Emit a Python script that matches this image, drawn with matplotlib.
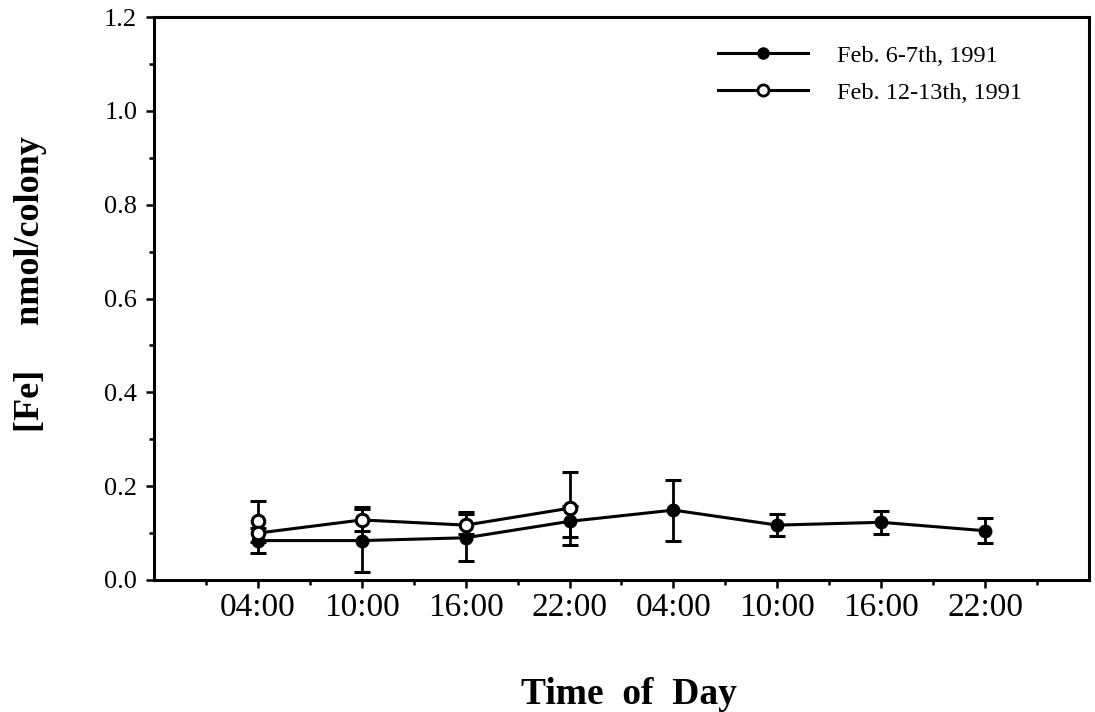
import matplotlib
matplotlib.use("Agg")
import matplotlib.pyplot as plt
from matplotlib.ticker import MultipleLocator, FixedLocator, FormatStrFormatter
from matplotlib.lines import Line2D

plt.rcParams['font.family'] = ['Liberation Serif', 'DejaVu Serif']

# ---- data ----
time_labels = ["04:00", "10:00", "16:00", "22:00", "04:00", "10:00", "16:00", "22:00"]
x_pos = [1, 2, 3, 4, 5, 6, 7, 8]

feb6_y = [0.084, 0.084, 0.090, 0.125, 0.149, 0.117, 0.123, 0.105]
feb6_err = [0.027, 0.068, 0.050, 0.033, 0.065, 0.024, 0.024, 0.027]

feb12_x = [1, 2, 3, 4]
feb12_y = [0.100, 0.128, 0.117, 0.153]
feb12_err_lo = [0.020, 0.023, 0.020, 0.078]
feb12_err_hi = [0.069, 0.028, 0.029, 0.078]
# second open marker drawn at the first time point
feb12_extra_x = [1]
feb12_extra_y = [0.125]

series_labels = ["Feb. 6-7th, 1991", "Feb. 12-13th, 1991"]

fig = plt.figure(figsize=(10.95, 7.12), dpi=100)
ax = fig.add_axes([0.1406, 0.1854, 0.8539, 0.7906])

lw = 2.2
ax.errorbar(x_pos, feb6_y, yerr=feb6_err, color='black', lw=lw,
            marker='o', ms=9, mfc='black', mec='black', capsize=6, capthick=2.2,
            elinewidth=2.0, zorder=3)
ax.errorbar(feb12_x, feb12_y, yerr=[feb12_err_lo, feb12_err_hi], color='black', lw=lw,
            marker='o', ms=9, mfc='white', mec='black', mew=2.2, capsize=6, capthick=2.2,
            elinewidth=2.0, zorder=4)
ax.plot(feb12_extra_x, feb12_extra_y, linestyle='none', marker='o', ms=9,
        mfc='white', mec='black', mew=2.2, zorder=4)

ax.set_xlim(0, 9)
ax.set_ylim(0, 1.2)
ax.xaxis.set_major_locator(FixedLocator(x_pos))
ax.set_xticklabels(time_labels)
ax.xaxis.set_minor_locator(FixedLocator([0.5 + i for i in range(9)]))
ax.yaxis.set_major_locator(MultipleLocator(0.2))
ax.yaxis.set_minor_locator(MultipleLocator(0.1))
ax.yaxis.set_major_formatter(FormatStrFormatter('%.1f'))

for s in ax.spines.values():
    s.set_linewidth(2.2)
ax.tick_params(which='major', direction='out', length=6, width=1.8)
ax.tick_params(which='minor', direction='out', length=3.5, width=1.8)
ax.tick_params(axis='x', which='major', labelsize=24, pad=3)
ax.tick_params(axis='y', which='major', labelsize=19, pad=6)
ax.tick_params(top=False, right=False, which='both')

ax.set_xlabel("Time  of  Day", fontsize=27, fontweight='bold')
ax.xaxis.set_label_coords(0.5075, -0.172)
ax.xaxis.label.set_va('top')
ax.set_ylabel("[Fe]     nmol/colony", fontsize=26, fontweight='bold')
ax.yaxis.label.set_va('center')
ax.yaxis.set_label_coords(-0.132, 0.526)

handles = [
    Line2D([], [], color='black', lw=2.2, marker='o', ms=8, mfc='black', mec='black'),
    Line2D([], [], color='black', lw=2.2, marker='o', ms=8, mfc='white', mec='black', mew=2.0),
]
ax.legend(handles, series_labels, loc='upper left', bbox_to_anchor=(0.603, 0.951),
          frameon=False, fontsize=17.5, handlelength=3.7, handletextpad=1.2,
          labelspacing=0.62, borderpad=0, borderaxespad=0)

fig.savefig("out.png", dpi=100)
